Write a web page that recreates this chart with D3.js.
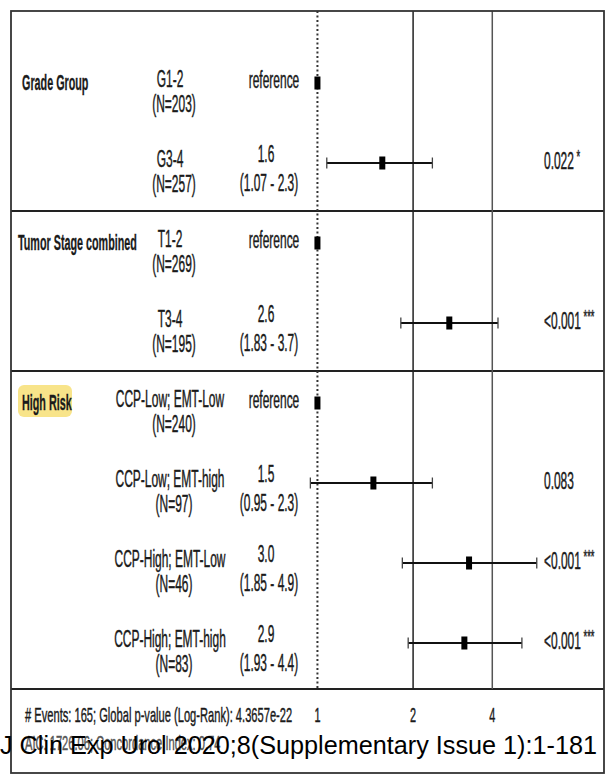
<!DOCTYPE html>
<html>
<head>
<meta charset="utf-8">
<script src="https://cdn.jsdelivr.net/npm/d3@7"></script>
<style>
  html, body { margin: 0; padding: 0; background: #fff; }
  svg { display: block; }
</style>
</head>
<body>
<svg id="chart" width="610" height="775"></svg>
<script>
// Hazard ratio table (Cox model)
const groups      = ["Grade Group", "Tumor Stage combined", "High Risk"];
const groupStart  = [0, 2, 4];          // first row of each group
const levels      = ["G1-2", "G3-4", "T1-2", "T3-4",
                     "CCP-Low; EMT-Low", "CCP-Low; EMT-high", "CCP-High; EMT-Low", "CCP-High; EMT-high"];
const counts      = [203, 257, 269, 195, 240, 97, 46, 83];
const hazard      = [1, 1.6, 1, 2.6, 1, 1.5, 3.0, 2.9];
const ciLow       = [null, 1.07, null, 1.83, null, 0.95, 1.85, 1.93];
const ciHigh      = [null, 2.3, null, 3.7, null, 2.3, 4.9, 4.4];
const isReference = [true, false, true, false, true, false, false, false];
const pValues     = ["", "0.022", "", "<0.001", "", "0.083", "<0.001", "<0.001"];
const pStars      = ["", "*", "", "***", "", "", "***", "***"];
const axisTicks   = [1, 2, 3.55];
const axisLabels  = ["1", "2", "4"];
const footerLines = ["# Events: 165; Global p-value (Log-Rank): 4.3657e-22",
                     "AIC: 1726.06; Concordance Index: 0.74"];
const citation    = "J Clin Exp Urol 2020;8(Supplementary Issue 1):1-181";

const svg = d3.select("#chart");
const FONT = "'Liberation Sans', Arial, sans-serif";
const SX = 0.52;    // condensed lettering

const frame = { left: 11, right: 604, top: 11, bottom: 773 };
const plotBottom = 689;

const x = d3.scaleLog().domain([0.9, 5.5]).range([302.9, 552.7]);
const y = d3.scaleLinear().domain([0, levels.length - 1]).range([83, 643]);

function label(g, px, py, str, opt = {}) {
  const fill = opt.fill ?? "#1a1a1a";
  return g.append("text")
    .attr("transform", `translate(${px},${py}) scale(${opt.sx ?? SX},1)`)
    .attr("text-anchor", opt.anchor ?? "middle")
    .attr("dominant-baseline", "central")
    .attr("font-family", FONT)
    .attr("font-size", opt.size ?? 23)
    .attr("font-weight", opt.weight ?? "normal")
    .attr("fill", fill)
    .attr("stroke", fill).attr("stroke-width", opt.weight === "bold" ? 0.3 : 0.45)
    .text(str);
}

const rows = levels.map((lv, i) => ({
  i, level: lv, n: counts[i], hr: hazard[i], lo: ciLow[i], hi: ciHigh[i],
  ref: isReference[i], p: pValues[i], stars: pStars[i]
}));

// group separators (below the last row of each group)
const groupEnds = groupStart.map((s, k) => (k + 1 < groupStart.length ? groupStart[k + 1] : levels.length) - 1);
const sepY = groupEnds.slice(0, -1).map(r => y(r) + 48).concat([plotBottom]);

const grid = svg.append("g");
grid.selectAll("line.sep").data(sepY).join("line")
  .attr("x1", frame.left).attr("x2", frame.right)
  .attr("y1", d => d).attr("y2", d => d)
  .attr("stroke", "#222").attr("stroke-width", 2);

// vertical reference lines
grid.append("line")
  .attr("x1", x(axisTicks[0])).attr("x2", x(axisTicks[0]))
  .attr("y1", frame.top).attr("y2", plotBottom)
  .attr("stroke", "#333").attr("stroke-width", 2).attr("stroke-dasharray", "2,2.5");
grid.selectAll("line.v").data(axisTicks.slice(1)).join("line")
  .attr("x1", d => x(d)).attr("x2", d => x(d))
  .attr("y1", frame.top).attr("y2", plotBottom)
  .attr("stroke", (d, i) => i === 0 ? "#222" : "#555").attr("stroke-width", 1.5);

// outer frame
svg.append("rect")
  .attr("x", frame.left).attr("y", frame.top)
  .attr("width", frame.right - frame.left).attr("height", frame.bottom - frame.top)
  .attr("fill", "none").attr("stroke", "#333").attr("stroke-width", 1.8);

// group titles
const titles = svg.append("g");
groups.forEach((gname, k) => {
  const gy = y(groupStart[k]) - 1;
  if (k === groups.length - 1) {
    titles.append("rect")
      .attr("x", 18).attr("y", gy - 17).attr("width", 54).attr("height", 32)
      .attr("rx", 6).attr("fill", "#f8e48a");
  }
  label(titles, k === 1 ? 18 : 22, gy, gname,
        { anchor: "start", weight: "bold", size: 22, sx: 0.49 });
});

// level names, counts, estimates
const txt = svg.append("g");
rows.forEach(r => {
  const yc = y(r.i);
  label(txt, 170, yc - 4, r.level);
  label(txt, 174, yc + 21, `(N=${r.n})`);
  if (r.ref) {
    label(txt, 274, yc - 3, "reference");
  } else {
    label(txt, 266, yc - 9, r.hr.toFixed(1));
    label(txt, 269, yc + 20, `(${r.lo} - ${r.hi})`);
  }
  if (r.p) {
    const t = label(txt, 544, yc - 2, r.p, { anchor: "start" });
    if (r.stars) {
      t.append("tspan").attr("font-size", 18).attr("dy", -4).text(" " + r.stars);
    }
  }
});

// confidence intervals and point estimates
const marks = svg.append("g");
const ciRows = rows.filter(r => !r.ref);
marks.selectAll("line.ci").data(ciRows).join("line")
  .attr("x1", d => x(d.lo)).attr("x2", d => x(d.hi))
  .attr("y1", d => y(d.i)).attr("y2", d => y(d.i))
  .attr("stroke", "#111").attr("stroke-width", 2);
["lo", "hi"].forEach(k => {
  marks.selectAll("line.cap-" + k).data(ciRows).join("line")
    .attr("x1", d => x(d[k])).attr("x2", d => x(d[k]))
    .attr("y1", d => y(d.i) - 5.5).attr("y2", d => y(d.i) + 5.5)
    .attr("stroke", "#444").attr("stroke-width", 1.3);
});
marks.selectAll("rect.pt").data(rows).join("rect")
  .attr("x", d => x(d.hr) - 3).attr("y", d => y(d.i) - 6.5)
  .attr("width", 6).attr("height", 13)
  .attr("fill", "#000");

// axis labels and footer
const foot = svg.append("g");
axisTicks.forEach((v, i) => label(foot, x(v), 715, axisLabels[i], { size: 21 }));
label(foot, 25, 715, footerLines[0], { anchor: "start", size: 21, sx: 0.53 });
label(foot, 25, 743, footerLines[1], { anchor: "start", size: 21, sx: 0.53, fill: "#555" });

// citation line
svg.append("text")
  .attr("x", 0).attr("y", 754)
  .attr("font-family", FONT)
  .attr("font-size", 26)
  .attr("fill", "#000")
  .attr("textLength", 597).attr("lengthAdjust", "spacingAndGlyphs")
  .text(citation);
</script>
</body>
</html>
